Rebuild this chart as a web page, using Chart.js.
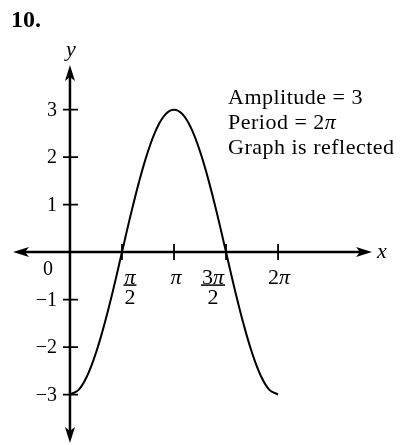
<!DOCTYPE html>
<html>
<head>
<meta charset="utf-8">
<script src="https://cdn.jsdelivr.net/npm/chart.js@4"></script>
<style>
  html, body { margin: 0; padding: 0; background: #fff; }
  #wrap { width: 402px; height: 445px; }
</style>
</head>
<body>
<div id="wrap"><canvas id="chart" width="402" height="445"></canvas></div>
<script>
// curve (x in multiples of pi)
const curveX = [0, 1/12, 1/6, 1/4, 1/3, 5/12, 1/2, 7/12, 2/3, 3/4, 5/6, 11/12, 1,
                13/12, 7/6, 5/4, 4/3, 17/12, 3/2, 19/12, 5/3, 7/4, 11/6, 23/12, 2];
const curveY = [-3, -2.9, -2.6, -2.12, -1.5, -0.78, 0, 0.78, 1.5, 2.12, 2.6, 2.9, 3,
                2.9, 2.6, 2.12, 1.5, 0.78, 0, -0.78, -1.5, -2.12, -2.6, -2.9, -3];

const yTicks = [-3, -2, -1, 1, 2, 3];
const xTicks = [0.5, 1, 1.5, 2];
const xTickLabels = [['π', '2'], ['π'], ['3π', '2'], ['2π']];
const notes = ['Amplitude = 3', 'Period = 2π', 'Graph is reflected'];

const SERIF = '"Liberation Serif", "DejaVu Serif", serif';

// draws text with an italic pi, returns its width
function drawRuns(ctx, text, x, y, size, align, spacing) {
  const gap = spacing || 0;
  const parts = [...text].map(ch => ({
    ch,
    font: (ch === 'π' ? 'italic ' : '') + size + 'px ' + SERIF
  }));
  let total = 0;
  parts.forEach(p => { ctx.font = p.font; p.w = ctx.measureText(p.ch).width + gap; total += p.w; });
  total -= gap;
  let cx = x;
  if (align === 'center') cx = x - total / 2;
  if (align === 'right') cx = x - total;
  ctx.textAlign = 'left';
  parts.forEach(p => { ctx.font = p.font; ctx.fillText(p.ch, cx, y); cx += p.w; });
  return total;
}

function arrow(ctx, tx, ty, dx, dy) {
  const len = 16, half = 5, notch = 4;
  const px = -dy, py = dx;
  ctx.beginPath();
  ctx.moveTo(tx, ty);
  ctx.lineTo(tx - dx * len + px * half, ty - dy * len + py * half);
  ctx.lineTo(tx - dx * (len - notch), ty - dy * (len - notch));
  ctx.lineTo(tx - dx * len - px * half, ty - dy * len - py * half);
  ctx.closePath();
  ctx.fill();
}

const axesPlugin = {
  id: 'axesPlugin',
  beforeDatasetsDraw(chart) {
    const { ctx, chartArea: a, scales: { x, y } } = chart;
    const x0 = x.getPixelForValue(0), y0 = y.getPixelForValue(0);
    ctx.save();
    ctx.strokeStyle = '#000';
    ctx.fillStyle = '#000';
    ctx.lineWidth = 2.5;
    ctx.beginPath();
    ctx.moveTo(a.left + 6, y0); ctx.lineTo(a.right - 6, y0);
    ctx.moveTo(x0, a.top + 6); ctx.lineTo(x0, a.bottom - 6);
    ctx.stroke();
    arrow(ctx, a.left, y0, -1, 0);
    arrow(ctx, a.right, y0, 1, 0);
    arrow(ctx, x0, a.top, 0, -1);
    arrow(ctx, x0, a.bottom, 0, 1);

    ctx.lineWidth = 1.8;
    ctx.beginPath();
    yTicks.forEach(v => {
      const py = y.getPixelForValue(v);
      ctx.moveTo(x0 - 7, py); ctx.lineTo(x0 + 8, py);
    });
    xTicks.forEach(v => {
      const px = x.getPixelForValue(v * Math.PI);
      ctx.moveTo(px, y0 - 8); ctx.lineTo(px, y0 + 8);
    });
    ctx.stroke();
    ctx.restore();
  },
  afterDatasetsDraw(chart) {
    const { ctx, scales: { x, y } } = chart;
    const x0 = x.getPixelForValue(0), y0 = y.getPixelForValue(0);
    ctx.save();
    ctx.fillStyle = '#000';
    ctx.strokeStyle = '#000';
    ctx.textBaseline = 'middle';

    yTicks.forEach(v => {
      const label = v < 0 ? '−' + (-v) : String(v);
      drawRuns(ctx, label, x0 - 13, y.getPixelForValue(v) + 1, 20, 'right');
    });
    drawRuns(ctx, '0', x0 - 22, y0 + 18, 20, 'center');

    const shift = [8, 2, -13, 1];
    xTicks.forEach((v, i) => {
      const cx = x.getPixelForValue(v * Math.PI) + shift[i];
      const lab = xTickLabels[i];
      const w = drawRuns(ctx, lab[0], cx, y0 + 26, 22, 'center');
      if (lab.length > 1) {
        ctx.lineWidth = 1.5;
        ctx.beginPath();
        ctx.moveTo(cx - w / 2 - 1, y0 + 33); ctx.lineTo(cx + w / 2 + 1, y0 + 33);
        ctx.stroke();
        drawRuns(ctx, lab[1], cx, y0 + 46, 22, 'center');
      }
    });

    ctx.font = 'italic 22px ' + SERIF;
    ctx.textAlign = 'left';
    ctx.fillText('x', chart.chartArea.right + 5, y0);
    ctx.textAlign = 'center';
    ctx.fillText('y', x0 + 1, 50);

    ctx.textBaseline = 'alphabetic';
    ctx.textAlign = 'left';
    ctx.font = 'bold 24px ' + SERIF;
    ctx.fillText('10.', 11, 27);

    notes.forEach((t, i) => drawRuns(ctx, t, 228, 104 + i * 25, 22, 'left', 0.5));
    ctx.restore();
  }
};

new Chart(document.getElementById('chart'), {
  type: 'line',
  data: {
    datasets: [{
      data: curveX.map((v, i) => ({ x: v * Math.PI, y: curveY[i] })),
      borderColor: '#000',
      borderWidth: 2,
      pointRadius: 0,
      tension: 0.4,
      fill: false
    }]
  },
  options: {
    responsive: false,
    animation: false,
    devicePixelRatio: 1,
    layout: { padding: { left: 13, right: 30, top: 65, bottom: 2 } },
    scales: {
      x: { type: 'linear', display: false, min: -1.72, max: 9.12 },
      y: { display: false, min: -4.02, max: 3.94 }
    },
    plugins: { legend: { display: false }, tooltip: { enabled: false } }
  },
  plugins: [axesPlugin]
});
</script>
</body>
</html>
